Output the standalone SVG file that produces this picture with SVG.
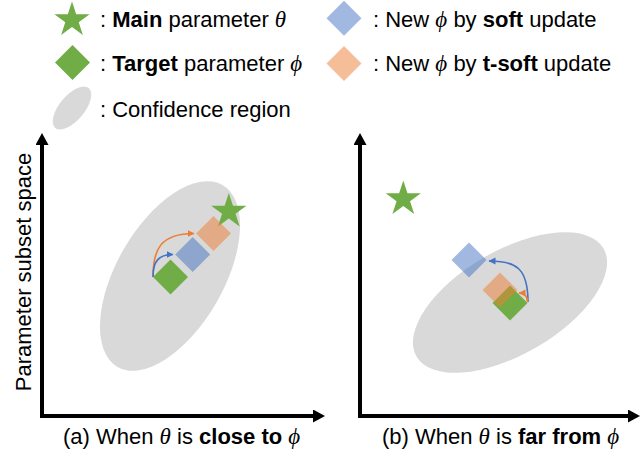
<svg xmlns="http://www.w3.org/2000/svg" width="640" height="450" viewBox="0 0 640 450">
  <style>
    text { font-family: "Liberation Sans", Arial, sans-serif; font-size: 22px; fill: #000; }
    .b { font-weight: bold; }
    .g { font-family: "Liberation Serif", "DejaVu Serif", "Times New Roman", serif; font-style: italic; font-size: 23px; }
    .region { fill: #D9D9D9; }
    .main { fill: #70AD47; }
    .target { fill: #70AD47; }
    .soft { fill: #4472C4; fill-opacity: 0.5; }
    .tsoft { fill: #ED7D31; fill-opacity: 0.5; }
    .axis { fill: none; stroke: #000; stroke-width: 4; stroke-linejoin: miter; }
    .upd { fill: none; stroke-width: 1.6; }
    .upd-soft { stroke: #4472C4; marker-end: url(#headSoft); }
    .upd-tsoft { stroke: #ED7D31; marker-end: url(#headTsoft); }
  </style>
  <defs>
    <path id="star" d="M0,-18.5 L4.17,-5.74 L17.59,-5.72 L6.74,2.19 L10.87,14.97 L0,7.09 L-10.87,14.97 L-6.74,2.19 L-17.59,-5.72 L-4.17,-5.74 Z"/>
    <path id="diamond" d="M0,-17.5 L17.5,0 L0,17.5 L-17.5,0 Z"/>
    <marker id="axisHead" markerUnits="userSpaceOnUse" markerWidth="12" markerHeight="13" refX="0" refY="6.5" orient="auto-start-reverse">
      <path d="M0,0 L12,6.5 L0,13 Z" fill="#000"/>
    </marker>
    <marker id="headSoft" markerUnits="userSpaceOnUse" markerWidth="8" markerHeight="8" refX="6.5" refY="3.5" orient="auto">
      <path d="M0,0 L7,3.5 L0,7 Z" fill="#4472C4"/>
    </marker>
    <marker id="headTsoft" markerUnits="userSpaceOnUse" markerWidth="8" markerHeight="8" refX="6.5" refY="3.5" orient="auto">
      <path d="M0,0 L7,3.5 L0,7 Z" fill="#ED7D31"/>
    </marker>
  </defs>

  <!-- Legend -->
  <g id="legend-main">
    <use href="#star" x="72" y="20" class="main"/>
    <text x="100" y="27">: <tspan class="b">Main</tspan> parameter <tspan class="g">θ</tspan></text>
  </g>
  <g id="legend-target">
    <use href="#diamond" x="72.5" y="62.5" class="target"/>
    <text x="100" y="71">: <tspan class="b">Target</tspan> parameter <tspan class="g">ϕ</tspan></text>
  </g>
  <g id="legend-region">
    <ellipse cx="72" cy="108" rx="26" ry="12.5" transform="rotate(-50 72 108)" class="region"/>
    <text x="100" y="117">: Confidence region</text>
  </g>
  <g id="legend-soft">
    <use href="#diamond" x="344" y="18.3" class="soft"/>
    <text x="373" y="27">: New <tspan class="g">ϕ</tspan> by <tspan class="b">soft</tspan> update</text>
  </g>
  <g id="legend-tsoft">
    <use href="#diamond" x="344" y="63.5" class="tsoft"/>
    <text x="373" y="71">: New <tspan class="g">ϕ</tspan> by <tspan class="b">t-soft</tspan> update</text>
  </g>

  <!-- Panel (a): theta close to phi -->
  <g id="panel-a">
    <g id="axes-a">
      <path class="axis" d="M42,145 V416 H313" marker-start="url(#axisHead)" marker-end="url(#axisHead)"/>
      <text transform="translate(31 272) rotate(-90)" text-anchor="middle">Parameter subset space</text>
      <text x="63" y="444">(a) When <tspan class="g">θ</tspan> is <tspan class="b">close to</tspan> <tspan class="g">ϕ</tspan></text>
    </g>
    <g id="region-a">
      <ellipse cx="170" cy="276" rx="105" ry="53.5" transform="rotate(-60 170 276)" class="region"/>
    </g>
    <g id="main-a"><use href="#star" x="228.8" y="211.5" class="main"/></g>
    <g id="target-a"><use href="#diamond" x="170.5" y="277" class="target"/></g>
    <g id="soft-a"><use href="#diamond" x="192.7" y="254.5" class="soft"/></g>
    <g id="tsoft-a"><use href="#diamond" x="213.5" y="233.5" class="tsoft"/></g>
    <g id="updates-a">
      <path class="upd upd-tsoft" d="M153,277 C153,250 160,233.5 194,233.5"/>
      <path class="upd upd-soft" d="M153,277 C153,262 158,254.5 173,254.5"/>
    </g>
  </g>

  <!-- Panel (b): theta far from phi -->
  <g id="panel-b">
    <g id="axes-b">
      <path class="axis" d="M360,145 V416 H628" marker-start="url(#axisHead)" marker-end="url(#axisHead)"/>
      <text x="382" y="444">(b) When <tspan class="g">θ</tspan> is <tspan class="b">far from</tspan> <tspan class="g">ϕ</tspan></text>
    </g>
    <g id="region-b">
      <ellipse cx="510" cy="302.5" rx="108" ry="52" transform="rotate(-30 510 302.5)" class="region"/>
    </g>
    <g id="main-b"><use href="#star" x="403.3" y="199" class="main"/></g>
    <g id="target-b"><use href="#diamond" x="510" y="303" class="target"/></g>
    <g id="tsoft-b"><use href="#diamond" x="500" y="290" class="tsoft"/></g>
    <g id="soft-b"><use href="#diamond" x="469" y="260" class="soft"/></g>
    <g id="updates-b">
      <path class="upd upd-soft" d="M528,302 C528,268 516,261 489,261"/>
      <path class="upd upd-tsoft" d="M527.5,302 C527.5,297 525,293 519,293"/>
    </g>
  </g>
</svg>
